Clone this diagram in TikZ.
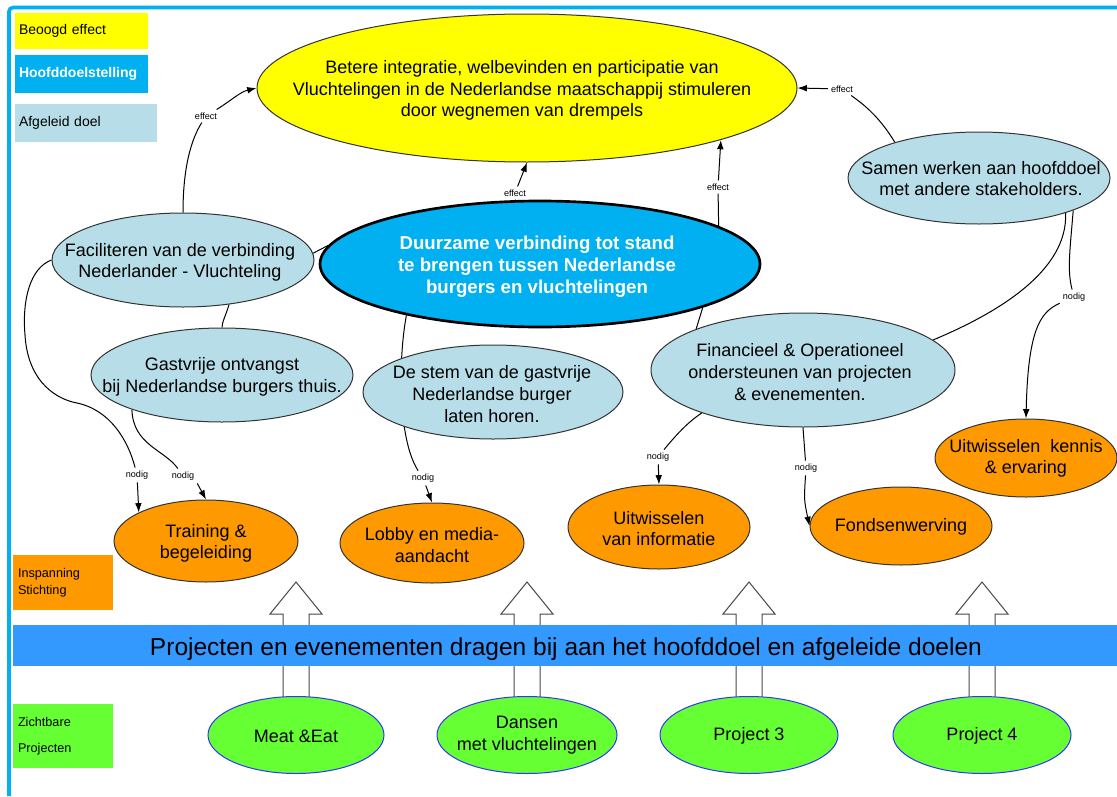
\documentclass[tikz,border=0pt]{standalone}
\usepackage{fontspec}
\setmainfont{Liberation Sans}
\usetikzlibrary{shapes.geometric,arrows.meta}
\definecolor{framecol}{HTML}{00B0F0}
\definecolor{yelcol}{HTML}{FFFF00}
\definecolor{hoofdcol}{HTML}{00B0F0}
\definecolor{afgcol}{HTML}{B7DEE8}
\definecolor{oracol}{HTML}{FF9900}
\definecolor{grncol}{HTML}{66FF33}
\definecolor{barcol}{HTML}{3399FF}
\definecolor{edgecol}{HTML}{333333}
\pgfdeclarelayer{bg}
\pgfsetlayers{bg,main}
\begin{document}
\begin{tikzpicture}[x=0.75pt,y=-0.75pt,
  ell/.style 2 args={ellipse, inner sep=0pt, minimum width=#1*1.5pt, minimum height=#2*1.5pt},
  goalnode/.style={fill=yelcol, draw=edgecol, line width=0.75pt},
  mainnode/.style={fill=hoofdcol, draw=black, line width=2pt},
  subnode/.style={fill=afgcol, draw=edgecol, line width=0.75pt},
  effnode/.style={fill=oracol, draw=edgecol, line width=0.75pt},
  projnode/.style={fill=grncol, draw=blue!80, line width=0.75pt},
  txt/.style={align=center, inner sep=0pt, font=\fontsize{13.5}{16.2}\selectfont},
  maintxt/.style={align=center, inner sep=0pt, text=white, font=\fontsize{14}{16.5}\selectfont\bfseries},
  lbl/.style={fill=white, inner sep=2.2pt, font=\fontsize{6.8}{7}\selectfont},
  conn/.style={line width=0.75pt, draw=black},
  arr/.style={conn, -{Latex[length=7pt,width=5pt]}},
  blockarr/.style={fill=white, draw=edgecol!90, line width=0.75pt},
  legendbox/.style={rectangle, inner ysep=0pt, align=left, font=\fontsize{10.5}{12}\selectfont}
]
\useasboundingbox (0,0) rectangle (1117,796);

% frame
\draw[framecol, line width=2.7pt, rounded corners=3pt] (9,796) -- (9,7.5) -- (1117,7.5);

% legend
\node[legendbox, fill=yelcol, inner xsep=3pt, text width=93.75pt, minimum height=27pt] (lg1) at (81.5,31) {Beoogd effect};
\node[legendbox, fill=hoofdcol, text=white, inner xsep=3pt, text width=93.75pt, minimum height=28.5pt, font=\fontsize{10.5}{12}\selectfont\bfseries] (lg2) at (81.5,74) {Hoofddoelstelling};
\node[legendbox, fill=afgcol, inner xsep=3pt, text width=100.5pt, minimum height=28.5pt] (lg3) at (86,123) {Afgeleid doel};
\node[legendbox, fill=oracol, inner xsep=3.75pt, text width=67.5pt, minimum height=41.25pt, font=\fontsize{9.5}{12.75}\selectfont] (lg4) at (63,582.5) {Inspanning\\Stichting};
\node[legendbox, fill=grncol, inner xsep=3.75pt, text width=67.5pt, minimum height=48pt, font=\fontsize{9.5}{19.5}\selectfont] (lg5) at (63,736) {Zichtbare\\Projecten};

% goal ellipses
\node[ell={270}{74}, goalnode] (yel) at (527,88) {};
\node[txt] (yel-t) at (522,90.5) {Betere integratie, welbevinden en participatie van\\Vluchtelingen in de Nederlandse maatschappij stimuleren\\door wegnemen van drempels};

\node[ell={220}{63}, mainnode] (blue) at (540,264) {};
\node[maintxt] (blue-t) at (537,267) {Duurzame verbinding tot stand\\te brengen tussen Nederlandse\\burgers en vluchtelingen};

\node[ell={131}{47}, subnode] (fac) at (183,260) {};
\node[txt] (fac-t) at (180,262.5) {Faciliteren van de verbinding\\Nederlander - Vluchteling};

\node[ell={131}{47}, subnode] (gast) at (222,375) {};
\node[txt] (gast-t) at (222,377) {Gastvrije ontvangst\\bij Nederlandse burgers thuis.};

\node[ell={130}{47}, subnode] (stem) at (493,392) {};
\node[txt] (stem-t) at (492,394) {De stem van de gastvrije\\Nederlandse burger\\laten horen.};

\node[ell={152}{57}, subnode] (fin) at (803,370) {};
\node[txt] (fin-t) at (800,372) {Financieel \& Operationeel\\ondersteunen van projecten\\\& evenementen.};

\node[ell={131}{46}, subnode] (samen) at (979,178) {};
\node[txt] (samen-t) at (981,178.5) {Samen werken aan hoofddoel\\met andere stakeholders.};

% effort ellipses
\node[ell={92}{41}, effnode] (train) at (206,541) {};
\node[txt] (train-t) at (206,543.5) {Training \&\\begeleiding};
\node[ell={92}{40}, effnode] (lobby) at (432,543) {};
\node[txt] (lobby-t) at (432,545) {Lobby en media-\\aandacht};
\node[ell={91}{42}, effnode] (uinfo) at (659,527) {};
\node[txt] (uinfo-t) at (659,528.5) {Uitwisselen\\van informatie};
\node[ell={91}{39}, effnode] (fsw) at (901,526) {};
\node[txt] (fsw-t) at (901,527) {Fondsenwerving};
\node[ell={91}{39}, effnode] (ukennis) at (1026,458) {};
\node[txt] (ukennis-t) at (1026,458.5) {Uitwisselen~ kennis\\\& ervaring};

% projects
\node[ell={88}{38.5}, projnode] (meat) at (296,735) {};
\node[txt] (meat-t) at (296,736) {Meat \&Eat};
\node[ell={90}{38.5}, projnode] (dansen) at (527,735) {};
\node[txt] (dansen-t) at (527,735) {Dansen\\met vluchtelingen};
\node[ell={89}{38.5}, projnode] (p3) at (749,735) {};
\node[txt] (p3-t) at (749,736) {Project 3};
\node[ell={89}{38.5}, projnode] (p4) at (982,735) {};
\node[txt] (p4-t) at (982,736) {Project 4};

% bar
\node[rectangle, fill=barcol, inner sep=0pt, minimum width=828pt, minimum height=30.75pt] (bar) at (565,645.5) {};
\node[inner sep=0pt, font=\fontsize{18.4}{20}\selectfont] (bar-t) at (566,649) {Projecten en evenementen dragen bij aan het hoofddoel en afgeleide doelen};

% labels
\node[lbl] (e1) at (206,116) {effect};
\node[lbl] (e2) at (515,193) {effect};
\node[lbl] (e3) at (718,187) {effect};
\node[lbl] (e4) at (842,89) {effect};
\node[lbl] (n1) at (137,475) {nodig};
\node[lbl] (n2) at (183,476) {nodig};
\node[lbl] (n3) at (423,478) {nodig};
\node[lbl] (n4) at (658,457) {nodig};
\node[lbl] (n5) at (806,468) {nodig};
\node[lbl] (n6) at (1074,297) {nodig};

\begin{pgfonlayer}{bg}
% block arrows
\foreach \p in {meat,dansen,p3,p4}
  \draw[blockarr, shift={(\p.north)}] (-13,1) -- (-13,-82) -- (-26,-82) -- (0,-114) -- (26,-82) -- (13,-82) -- (13,1);

% effect connectors
\draw[conn] (fac.north) .. controls (183,165) and (192,138) .. (e1);
\draw[arr] (e1) .. controls (232,100) and (240,92) .. (yel.west);
\draw[conn] (blue.111.6) -- (e2);
\draw[arr] (e2) -- (yel.south);
\draw[conn] (blue.12.5) -- (e3);
\draw[arr] (e3) -- (yel.-15.6);
\draw[conn] (samen.157) .. controls (880,118) and (866,106) .. (e4);
\draw[arr] (e4) -- (yel.east);

% structural links
\draw[conn] (fac.3.5) -- (blue.175.8);
\draw[conn] (fac.-44) .. controls (226,315) and (222,322) .. (gast.north);
\draw[conn] (blue.-15.8) -- (fin.159.5);
\draw[conn] (fin.13) .. controls (1000,312) and (1068,270) .. (samen.-22);

% nodig connectors
\draw[conn] (fac.west) .. controls (30,268) and (22,300) .. (25,335)
   .. controls (28,385) and (60,400) .. (77,403)
   .. controls (110,410) and (128,440) .. (n1);
\draw[arr] (n1) -- (train.157);
\draw[conn] (gast.201) .. controls (133,445) and (165,450) .. (n2);
\draw[arr] (n2.south east) -- (train.north);
\draw[conn] (blue.201.1) .. controls (398,360) and (398,440) .. (n3);
\draw[arr] (n3) -- (lobby.north);
\draw[conn] (fin.203) .. controls (688,422) and (676,435) .. (n4);
\draw[arr] (n4) -- (uinfo.north);
\draw[conn] (fin.south) -- (n5);
\draw[arr] (n5) .. controls (804,500) .. (fsw.west);
\draw[conn] (samen.-19) .. controls (1070,250) and (1067,270) .. (n6);
\draw[arr] (n6) .. controls (1040,312) and (1028,330) .. (ukennis.north);
\end{pgfonlayer}
\end{tikzpicture}
\end{document}
